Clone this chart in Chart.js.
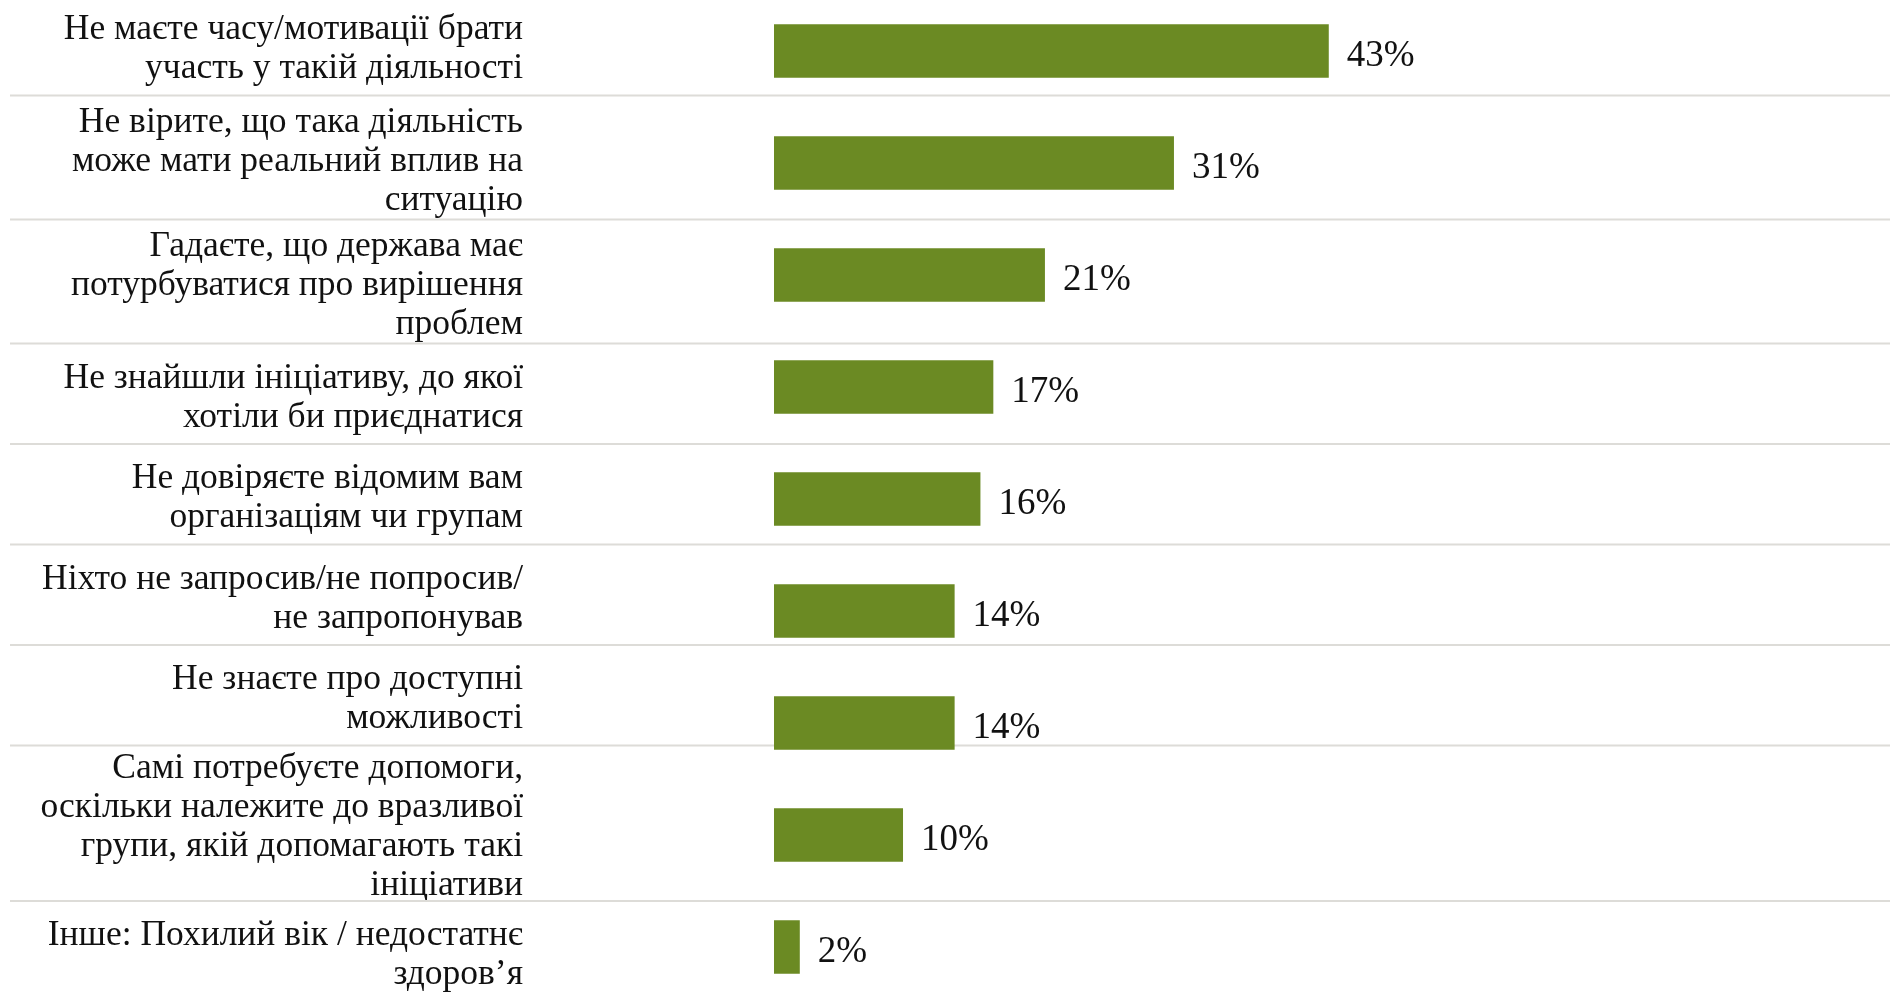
<!DOCTYPE html>
<html>
<head>
<meta charset="utf-8">
<script src="https://cdn.jsdelivr.net/npm/chart.js@4.4.0/dist/chart.umd.min.js"></script>
<style>
  html, body { margin: 0; padding: 0; background: #fff; overflow: hidden; }
  #wrap { position: relative; width: 1890px; height: 1008px; margin-top: -5px; }
</style>
</head>
<body>
<div id="wrap"><canvas id="barChart"></canvas></div>
<script>
// categories (one entry per row, split in lines as in the original)
const categories = [
  ['Не маєте часу/мотивації брати', 'участь у такій діяльності'],
  ['Не вірите, що така діяльність', 'може мати реальний вплив на', 'ситуацію'],
  ['Гадаєте, що держава має', 'потурбуватися про вирішення', 'проблем'],
  ['Не знайшли ініціативу, до якої', 'хотіли би приєднатися'],
  ['Не довіряєте відомим вам', 'організаціям чи групам'],
  ['Ніхто не запросив/не попросив/', 'не запропонував'],
  ['Не знаєте про доступні', 'можливості'],
  ['Самі потребуєте допомоги,', 'оскільки належите до вразливої', 'групи, якій допомагають такі', 'ініціативи'],
  ['Інше: Похилий вік / недостатнє', 'здоров’я']
]
const values = [43, 31, 21, 17, 16, 14, 14, 10, 2]

const barColor = '#6b8a23'
const fontFamily = '"Liberation Serif", "Times New Roman", serif'
const labelFont = '35.5px ' + fontFamily
const valueFont = '37px ' + fontFamily
const lineH = 39

// the label column on the left, laid out like table rows with separators
const rowLabels = {
  id: 'rowLabels',
  beforeDatasetsDraw(chart) {
    const ctx = chart.ctx
    let top = chart.chartArea.top
    ctx.save()
    ctx.font = labelFont
    ctx.fillStyle = '#111111'
    ctx.textAlign = 'right'
    ctx.textBaseline = 'middle'
    categories.forEach((lines, i) => {
      const h = Math.max(100.5, 31.5 * lines.length + 29.5)
      const mid = top + h / 2 + 4
      lines.forEach((txt, j) => {
        ctx.fillText(txt, 523, mid + (j - (lines.length - 1) / 2) * lineH)
      })
      top += h
      if (i < categories.length - 1) {
        ctx.strokeStyle = '#dddcd8'
        ctx.lineWidth = 2
        ctx.beginPath()
        ctx.moveTo(10, top)
        ctx.lineTo(chart.width, top)
        ctx.stroke()
      }
    })
    ctx.restore()
  }
}

// percentage next to each bar
const valueLabels = {
  id: 'valueLabels',
  afterDatasetsDraw(chart) {
    const ctx = chart.ctx
    const meta = chart.getDatasetMeta(0)
    ctx.save()
    ctx.font = valueFont
    ctx.fillStyle = '#111111'
    ctx.textAlign = 'left'
    ctx.textBaseline = 'alphabetic'
    meta.data.forEach((bar, i) => {
      ctx.fillText(values[i] + '%', bar.x + 18, bar.y + 15)
    })
    ctx.restore()
  }
}

const ctx = document.getElementById('barChart').getContext('2d')
let chart = new Chart(ctx, {
  type: 'bar',
  data: {
    labels: categories,
    datasets: [
      {
        label: 'Причини',
        data: values,
        backgroundColor: barColor,
        borderWidth: 0,
        categoryPercentage: 1,
        barPercentage: 0.477,
      },
    ],
  },
  options: {
    indexAxis: 'y',
    responsive: true,
    maintainAspectRatio: false,
    animation: false,
    layout: {
      padding: { left: 774, right: 0, top: 0, bottom: 0 },
    },
    scales: {
      x: { display: false, min: 0, max: 86.5 },
      y: { display: false },
    },
    plugins: {
      legend: { display: false },
      tooltip: { enabled: false },
    },
  },
  plugins: [rowLabels, valueLabels],
})
</script>
</body>
</html>
